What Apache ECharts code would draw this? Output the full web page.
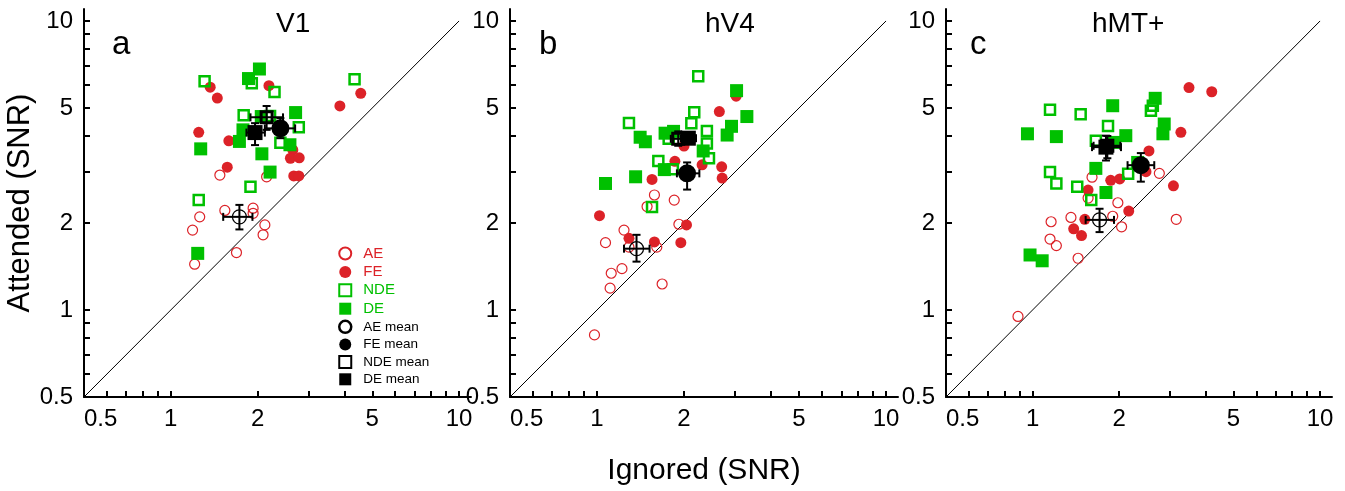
<!DOCTYPE html>
<html>
<head>
<meta charset="utf-8">
<title>Attended vs Ignored SNR</title>
<script src="https://cdn.jsdelivr.net/npm/echarts@6/dist/echarts.min.js"></script>
<style>
  html, body { margin: 0; padding: 0; background: #fff; }
  #chart { width: 1345px; height: 491px; }
</style>
</head>
<body>
<div id="chart"></div>
<script>
// panels, axis ticks
const panelNames = ['V1', 'hV4', 'hMT+'];
const panelLetters = ['a', 'b', 'c'];
const tickValues = [0.6, 0.7, 0.8, 0.9, 1, 2, 3, 4, 5, 6, 7, 8, 9, 10];
const labelValues = [0.5, 1, 2, 5, 10];
const diagonal = [[0.5, 0.5], [10, 10]];

// [ignored, attended] per subject
const aeV1 = [[1.48, 2.93], [2.15, 2.89], [1.54, 2.21], [1.26, 2.10], [1.19, 1.89], [1.93, 2.25],
  [1.93, 2.16], [2.12, 1.97], [2.09, 1.82], [1.69, 1.58], [1.21, 1.44]];
const feV1 = [[1.37, 5.90], [1.45, 5.41], [1.25, 4.12], [1.59, 3.85], [1.57, 3.12], [2.19, 5.97],
  [3.86, 5.08], [4.56, 5.62], [2.65, 3.58], [2.60, 3.35], [2.79, 3.36], [2.67, 2.91], [2.78, 2.91]];
const ndeV1 = [[1.31, 6.18], [1.91, 6.09], [2.29, 5.68], [4.34, 6.28], [1.79, 4.72], [2.21, 4.69],
  [2.78, 4.29], [2.40, 3.79], [1.89, 2.67], [1.25, 2.40]];
const deV1 = [[2.03, 6.82], [1.86, 6.32], [2.71, 4.82], [1.78, 4.20], [1.73, 3.83], [1.27, 3.61],
  [2.07, 3.47], [2.59, 3.73], [2.21, 3.00], [1.24, 1.57], [2.06, 4.67]];

const aeV4 = [[1.58, 2.50], [1.85, 2.40], [1.49, 2.28], [1.24, 1.89], [1.92, 1.98], [1.07, 1.71],
  [1.29, 1.65], [1.61, 1.65], [1.12, 1.34], [1.22, 1.39], [1.11, 1.19], [1.68, 1.23], [0.98, 0.82]];
const feV4 = [[2.65, 4.86], [3.03, 5.49], [2.70, 3.13], [2.71, 2.86], [2.31, 3.18], [1.86, 3.27],
  [2.00, 3.69], [1.55, 2.83], [1.02, 2.12], [2.04, 1.97], [1.29, 1.77], [1.58, 1.72], [1.95, 1.71]];
const ndeV4 = [[2.24, 6.44], [2.17, 4.83], [1.29, 4.44], [2.12, 4.43], [2.40, 4.16], [1.77, 3.91],
  [2.40, 3.77], [2.44, 3.35], [1.63, 3.28], [1.83, 3.07], [1.55, 2.27]];
const deV4 = [[3.04, 5.74], [3.30, 4.67], [2.92, 4.32], [2.82, 4.03], [1.41, 3.96], [1.47, 3.82],
  [1.72, 4.09], [1.84, 4.15], [2.33, 3.55], [1.71, 3.06], [1.36, 2.89], [1.07, 2.74]];

const aeMT = [[1.61, 2.88], [2.76, 2.97], [1.98, 2.35], [1.56, 2.44], [1.16, 2.02], [1.36, 2.09],
  [1.90, 2.11], [2.04, 1.94], [3.16, 2.06], [1.15, 1.76], [1.21, 1.67], [1.44, 1.51], [0.89, 0.95]];
const feMT = [[3.50, 5.88], [4.20, 5.69], [3.28, 4.12], [2.54, 3.55], [2.48, 3.01], [1.87, 2.81],
  [2.01, 2.84], [3.09, 2.69], [1.56, 2.60], [2.16, 2.20], [1.52, 2.06], [1.39, 1.91], [1.48, 1.81]];
const ndeMT = [[1.15, 4.93], [1.47, 4.76], [2.62, 5.09], [2.58, 4.89], [1.83, 4.33], [1.15, 3.00],
  [1.21, 2.74], [1.43, 2.67], [2.15, 2.96], [1.60, 2.40], [1.66, 3.85]];
const deMT = [[2.67, 5.40], [1.90, 5.09], [0.96, 4.07], [1.21, 3.98], [2.11, 4.01], [2.87, 4.40],
  [2.84, 4.07], [1.66, 3.09], [1.80, 2.55], [2.32, 3.24], [1.92, 3.80], [0.98, 1.55], [1.08, 1.48]];

// group means: [x, y, xLow, xHigh, yLow, yHigh], one row per panel
const meanAE = [[1.73, 2.10, 1.52, 1.92, 1.90, 2.31], [1.37, 1.63, 1.24, 1.52, 1.47, 1.82], [1.71, 2.05, 1.53, 1.92, 1.86, 2.24]];
const meanFE = [[2.40, 4.25, 2.12, 2.70, 3.93, 4.61], [2.05, 2.97, 1.89, 2.26, 2.61, 3.24], [2.38, 3.17, 2.14, 2.65, 2.78, 3.49]];
const meanNDE = [[2.15, 4.64, 1.89, 2.45, 4.20, 5.08], [1.91, 3.91, 1.80, 2.05, 3.70, 4.15], [1.82, 3.70, 1.63, 2.02, 3.35, 4.00]];
const meanDE = [[1.96, 4.11, 1.83, 2.12, 3.72, 4.43], [2.07, 3.93, 1.95, 2.20, 3.78, 4.10], [1.80, 3.66, 1.61, 2.03, 3.29, 4.01]];

const RED = '#dc2228';
const GREEN = '#00c000';
const FONT = 'Liberation Sans, Arial, Helvetica, sans-serif';
const HOLLOW = 'rgba(255,255,255,0)';

const groups = [
  { name: 'AE', data: [aeV1, aeV4, aeMT], symbol: 'circle', size: 10,
    itemStyle: { color: HOLLOW, borderColor: RED, borderWidth: 1.2, opacity: 1 } },
  { name: 'FE', data: [feV1, feV4, feMT], symbol: 'circle', size: 11,
    itemStyle: { color: RED, opacity: 1 } },
  { name: 'NDE', data: [ndeV1, ndeV4, ndeMT], symbol: 'rect', size: 10,
    itemStyle: { color: HOLLOW, borderColor: GREEN, borderWidth: 2.5, opacity: 1 } },
  { name: 'DE', data: [deV1, deV4, deMT], symbol: 'rect', size: 13,
    itemStyle: { color: GREEN, opacity: 1 } }
];
const means = [
  { name: 'AE mean', data: meanAE, symbol: 'circle', size: 14,
    itemStyle: { color: HOLLOW, borderColor: '#000', borderWidth: 1.2, opacity: 1 } },
  { name: 'FE mean', data: meanFE, symbol: 'circle', size: 18, itemStyle: { color: '#000', opacity: 1 } },
  { name: 'NDE mean', data: meanNDE, symbol: 'rect', size: 11,
    itemStyle: { color: HOLLOW, borderColor: '#000', borderWidth: 3, opacity: 1 } },
  { name: 'DE mean', data: meanDE, symbol: 'rect', size: 15, itemStyle: { color: '#000', opacity: 1 } }
];

const gridBoxes = [{ left: 84, width: 387 }, { left: 510, width: 388 }, { left: 946, width: 386 }];

const fmt = v => String(Math.round(v * 10) / 10);

function axisFor(i, dim) {
  const ax = {
    type: 'log',
    logBase: 10,
    gridIndex: i,
    min: 0.5,
    max: 11,
    axisLine: { show: true, lineStyle: { color: '#000', width: 2 } },
    axisTick: { show: true, inside: true, length: 6, customValues: tickValues,
      lineStyle: { color: '#000', width: 2 } },
    minorTick: { show: false },
    splitLine: { show: false },
    axisLabel: { customValues: labelValues, formatter: fmt, color: '#000',
      fontSize: 24, fontFamily: FONT, margin: dim === 'x' ? 10 : 11 },
    nameLocation: 'middle',
    nameTextStyle: { color: '#000', fontSize: 30, fontFamily: FONT }
  };
  if (dim === 'x') {
    ax.axisLabel.alignMinLabel = 'left';
    if (i === 1) { ax.name = 'Ignored (SNR)'; ax.nameGap = 59; }
  } else if (i === 0) {
    ax.name = 'Attended (SNR)';
    ax.nameGap = 40;
    ax.nameTextStyle.fontSize = 31;
  }
  return ax;
}

function errorBars(params, api) {
  const x = api.value(0), y = api.value(1);
  const c = api.coord([x, y]);
  const l = api.coord([api.value(2), y])[0];
  const r = api.coord([api.value(3), y])[0];
  const b = api.coord([x, api.value(4)])[1];
  const t = api.coord([x, api.value(5)])[1];
  const cap = 4;
  const style = { stroke: '#000', lineWidth: 2 };
  const seg = (x1, y1, x2, y2) => ({ type: 'line', shape: { x1, y1, x2, y2 }, style });
  return {
    type: 'group',
    children: [
      seg(l, c[1], r, c[1]), seg(l, c[1] - cap, l, c[1] + cap), seg(r, c[1] - cap, r, c[1] + cap),
      seg(c[0], t, c[0], b), seg(c[0] - cap, t, c[0] + cap, t), seg(c[0] - cap, b, c[0] + cap, b)
    ]
  };
}

const series = [];
panelNames.forEach((p, i) => {
  series.push({
    type: 'line', xAxisIndex: i, yAxisIndex: i, data: diagonal, symbol: 'none', silent: true,
    lineStyle: { color: '#000', width: 1 }, z: 1
  });
  groups.forEach(g => {
    series.push({
      name: g.name, type: 'scatter', xAxisIndex: i, yAxisIndex: i, data: g.data[i],
      symbol: g.symbol, symbolSize: g.size, itemStyle: g.itemStyle, z: 2
    });
  });
  means.forEach(m => {
    series.push({
      name: m.name, type: 'scatter', xAxisIndex: i, yAxisIndex: i,
      data: [[m.data[i][0], m.data[i][1]]],
      symbol: m.symbol, symbolSize: m.size, itemStyle: m.itemStyle, z: 3
    });
  });
  series.push({
    type: 'custom', xAxisIndex: i, yAxisIndex: i, silent: true, z: 4,
    dimensions: ['x', 'y', 'xlo', 'xhi', 'ylo', 'yhi'],
    encode: { x: 0, y: 1 },
    data: means.map(m => m.data[i]),
    renderItem: errorBars
  });
});

const titles = [];
const titleLeft = [276, 705, 1092];
const letterLeft = [112, 539, 970];
panelNames.forEach((p, i) => {
  titles.push({ text: p, left: titleLeft[i], top: 10, padding: 0,
    textStyle: { fontSize: 28, fontWeight: 'normal', color: '#000', fontFamily: FONT } });
  titles.push({ text: panelLetters[i], left: letterLeft[i], top: 28, padding: 0,
    textStyle: { fontSize: 33, fontWeight: 'normal', color: '#000', fontFamily: FONT } });
});

const legendItem = (name, color, size, itemStyle) => ({ name, textStyle: { color, fontSize: size }, itemStyle });

const option = {
  animation: false,
  backgroundColor: '#fff',
  title: titles,
  legend: {
    orient: 'vertical',
    left: 338,
    top: 246,
    padding: 0,
    itemWidth: 12,
    itemHeight: 12,
    itemGap: 3.4,
    selectedMode: false,
    textStyle: { fontFamily: FONT, padding: [0, 0, 0, 7] },
    data: [
      legendItem('AE', RED, 15), legendItem('FE', RED, 15),
      legendItem('NDE', GREEN, 15), legendItem('DE', GREEN, 15),
      legendItem('AE mean', '#000', 13.5, { borderWidth: 2.5 }), legendItem('FE mean', '#000', 13.5),
      legendItem('NDE mean', '#000', 13.5, { borderWidth: 2 }), legendItem('DE mean', '#000', 13.5)
    ]
  },
  grid: gridBoxes.map(g => ({ left: g.left, width: g.width, top: 9, height: 388,
    containLabel: false, outerBoundsMode: 'none' })),
  xAxis: panelNames.map((p, i) => axisFor(i, 'x')),
  yAxis: panelNames.map((p, i) => axisFor(i, 'y')),
  series
};

const chart = echarts.init(document.getElementById('chart'), null, { renderer: 'canvas' });
chart.setOption(option);
</script>
</body>
</html>
